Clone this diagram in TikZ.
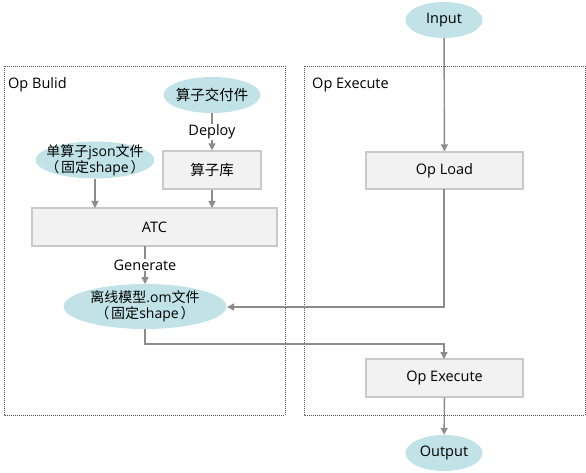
\documentclass[tikz,border=0pt]{standalone}
\usepackage{fontspec}
\setmainfont{Open Sans}
\newfontfamily\cjk{Noto Sans CJK SC}
\usetikzlibrary{shapes.geometric,arrows.meta}
\definecolor{ellfill}{HTML}{C1E3E7}
\definecolor{boxfill}{HTML}{F2F2F2}
\definecolor{boxline}{HTML}{C9C9C9}
\definecolor{arr}{HTML}{8C8C8C}
\definecolor{frame}{HTML}{555555}
\begin{document}
\begin{tikzpicture}[x=1pt,y=-1pt,
  every node/.style={font=\fontsize{14.5}{16}\selectfont, inner sep=0pt},
  ell/.style={ellipse, fill=ellfill, draw=none, align=center, inner xsep=-40pt, inner ysep=-12pt},
  box/.style={rectangle, fill=boxfill, draw=boxline, line width=1.2pt},
  conn/.style={draw=arr, line width=1.4pt, -{Triangle[width=7pt,length=7pt]}},
  grp/.style={draw=frame, line width=0.8pt, dash pattern=on 1pt off 1pt},
  lbl/.style={fill=white, inner sep=1pt},
  two/.style={font=\fontsize{14}{16}\selectfont}
]
\useasboundingbox (0,0) rectangle (586,473);
% groups
\draw[grp] (4,66) rectangle (285,415);
\draw[grp] (304,66) rectangle (585,415);
\node[anchor=west] (lb1) at (8,85) {Op Bulid};
\node[anchor=west] (lb2) at (312,85) {Op Execute};
% nodes
\node[ell, minimum width=77pt, minimum height=36pt] (in) at (444,20) {Input};
\node[ell, minimum width=97pt, minimum height=36pt] (jfj) at (212,95) {\cjk 算子交付件};
\node[box, minimum width=98pt, minimum height=38pt] (lib) at (212,170) {\cjk 算子库};
\node[ell, two, minimum width=119pt, minimum height=37pt] (json) at (95,160) {{\cjk 单算子}json{\cjk 文件}\\{\cjk （\hspace{2pt}固定}shape{\cjk \hspace{2pt}）}};
\node[box, minimum width=245pt, minimum height=38pt] (atc) at (154.5,227) {ATC};
\node[ell, two, minimum width=163pt, minimum height=45pt] (om) at (145,306.5) {{\cjk 离线模型}.om{\cjk 文件}\\{\cjk （\hspace{2pt}固定}shape{\cjk \hspace{2pt}）}};
\node[box, minimum width=157pt, minimum height=37pt] (load) at (444.5,170.5) {Op Load};
\node[box, minimum width=157pt, minimum height=38pt] (exec) at (444.5,378) {Op Execute};
\node[ell, minimum width=77pt, minimum height=36pt] (out) at (444,453) {Output};
% coordinates
\coordinate (atcA) at (95,208);
\coordinate (atcB) at (212,208);
\coordinate (atcC) at (145,246);
\coordinate (omT) at (145,284);
\coordinate (omR) at (227,307);
\coordinate (omB) at (145,329);
\coordinate (loadB) at (444,189);
\coordinate (execT) at (444,359);
% connectors
\draw[conn] (in) -- (load);
\draw[conn] (jfj) -- node[lbl] (dep) {Deploy} (lib);
\draw[conn] (json.south) -- (atcA);
\draw[conn] (lib.south) -- (atcB);
\draw[conn] (atcC) -- node[lbl] (gen) {Generate} (omT);
\draw[conn] (loadB) |- (omR);
\draw[conn] (omB) |- (444,344) -- (execT);
\draw[conn] (exec) -- (out);
\end{tikzpicture}
\end{document}
